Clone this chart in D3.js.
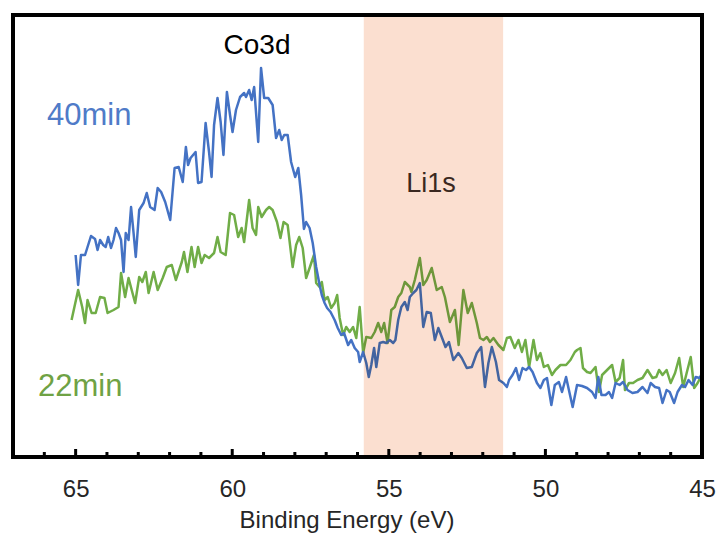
<!DOCTYPE html>
<html>
<head>
<meta charset="utf-8">
<script src="https://cdn.jsdelivr.net/npm/d3@7"></script>
<style>
  html, body { margin: 0; padding: 0; background: #fff; }
  svg { display: block; font-family: "Liberation Sans", Arial, sans-serif; }
</style>
</head>
<body>
<svg id="chart" width="720" height="533"></svg>
<script>
// ---- Data (binding energy in eV, intensity in arbitrary units) ----
const energy40 = [65.00,64.92,64.83,64.70,64.51,64.38,64.30,64.22,64.12,64.04,63.96,63.87,63.79,63.71,63.63,63.55,63.47,63.40,63.31,63.23,63.15,63.08,62.97,62.83,62.73,62.62,62.48,62.38,62.27,62.14,61.98,61.84,61.71,61.58,61.48,61.41,61.33,61.17,61.09,60.98,60.85,60.74,60.66,60.58,60.47,60.37,60.28,60.17,60.07,59.99,59.88,59.75,59.62,59.56,59.46,59.38,59.30,59.17,59.08,58.98,58.85,58.71,58.60,58.50,58.42,58.34,58.23,58.12,57.99,57.89,57.80,57.71,57.64,57.53,57.43,57.32,57.21,57.14,57.05,56.97,56.86,56.73,56.63,56.52,56.43,56.30,56.20,56.09,55.98,55.93,55.82,55.72,55.64,55.56,55.47,55.40,55.29,55.18,55.08,54.97,54.86,54.79,54.70,54.60,54.49,54.40,54.33,54.22,54.12,54.01,53.90,53.79,53.66,53.53,53.42,53.31,53.19,53.08,52.94,52.78,52.67,52.51,52.35,52.19,52.05,51.93,51.82,51.71,51.58,51.48,51.34,51.23,51.16,51.05,50.94,50.84,50.73,50.62,50.52,50.41,50.27,50.16,50.05,49.95,49.81,49.70,49.57,49.47,49.34,49.25,49.13,48.99,48.83,48.67,48.51,48.40,48.31,48.21,48.08,47.97,47.87,47.76,47.63,47.52,47.38,47.22,47.06,46.90,46.74,46.64,46.50,46.37,46.26,46.13,46.03,45.89,45.78,45.64,45.54,45.43,45.30,45.20,45.07,45.00];
const intensity40 = [202,172,202,202,221,218,207,217,212,210,220,209,217,229,224,217,185,224,217,250,224,200,247,254,264,250,247,269,265,255,237,289,290,275,310,292,299,305,274,275,334,305,280,332,359,335,302,365,342,325,347,360,364,360,367,357,370,315,389,359,359,352,319,327,317,322,322,295,280,289,262,228,235,229,214,190,172,162,154,149,145,137,129,122,124,112,117,109,105,95,105,94,80,92,109,90,114,115,114,117,114,117,137,150,155,147,160,164,167,174,130,145,144,117,129,120,110,115,97,104,99,89,90,104,110,70,94,110,95,77,74,70,77,82,89,77,89,87,90,85,74,69,77,79,52,72,75,65,80,67,50,72,71,69,65,59,80,62,62,65,59,74,72,75,67,64,65,70,64,74,70,69,54,67,65,54,65,72,70,77,72,80,79,84];

const energy22 = [65.13,64.92,64.79,64.70,64.62,64.49,64.36,64.22,64.08,63.98,63.79,63.63,63.55,63.42,63.31,63.21,63.10,62.97,62.87,62.76,62.67,62.51,62.38,62.22,62.09,61.93,61.80,61.61,61.54,61.43,61.30,61.20,61.09,60.98,60.88,60.74,60.58,60.47,60.37,60.21,60.07,59.94,59.81,59.70,59.62,59.46,59.35,59.24,59.17,59.06,58.92,58.82,58.71,58.57,58.46,58.36,58.23,58.07,57.96,57.86,57.75,57.64,57.53,57.39,57.32,57.21,57.14,57.05,56.95,56.84,56.73,56.65,56.57,56.46,56.36,56.25,56.14,56.04,55.93,55.82,55.72,55.56,55.45,55.34,55.24,55.15,55.04,54.92,54.81,54.70,54.60,54.49,54.33,54.28,54.17,54.01,53.90,53.79,53.63,53.47,53.31,53.21,53.05,52.89,52.77,52.62,52.48,52.35,52.19,52.09,51.98,51.87,51.77,51.66,51.50,51.34,51.23,51.12,50.98,50.86,50.75,50.64,50.52,50.38,50.27,50.16,50.05,49.92,49.79,49.68,49.52,49.34,49.20,49.06,48.99,48.88,48.80,48.67,48.56,48.40,48.29,48.19,48.03,47.87,47.76,47.63,47.52,47.46,47.33,47.20,47.06,46.90,46.74,46.58,46.46,46.37,46.26,46.13,46.00,45.86,45.73,45.60,45.49,45.36,45.25,45.14,45.04,45.00];
const intensity22 = [137,167,150,134,157,144,144,160,159,144,147,150,184,160,179,167,154,180,175,185,164,185,167,179,190,192,177,195,205,185,210,190,210,194,202,199,204,220,205,202,244,242,220,229,215,257,229,222,250,240,247,250,247,235,219,235,232,190,212,220,209,179,189,202,174,170,175,157,160,149,154,162,139,122,130,125,130,119,150,104,120,119,125,134,125,134,114,147,150,160,164,175,170,165,177,199,172,177,189,167,170,160,135,147,112,167,144,154,134,119,117,120,115,119,112,107,119,120,109,117,105,117,90,117,97,104,90,92,82,87,92,92,97,105,107,109,89,85,84,90,65,82,87,92,75,79,97,67,74,74,77,79,87,79,80,87,82,87,74,84,99,70,84,100,69,74,80,82];

const seriesNames = ["40min", "22min"];
const xTickValues = [65, 60, 55, 50, 45];
const li1sBand = [55.8, 51.35];
const peakLabels = ["Co3d", "Li1s"];
const xAxisTitle = "Binding Energy (eV)";

// ---- Layout ----
const svg = d3.select("#chart");
const mLeft = 13, mRight = 702, mTop = 15, mBottom = 457;

const x = d3.scaleLinear().domain([67, 45]).range([mLeft, mRight]);
const y = d3.scaleLinear().domain([0, 442]).range([mBottom, mTop]);

const blue = "#4472C4", green = "#70AD47";

svg.append("defs").append("clipPath").attr("id", "plotClip")
  .append("rect").attr("x", mLeft).attr("y", mTop).attr("width", mRight - mLeft).attr("height", mBottom - mTop);

const plot = svg.append("g").attr("clip-path", "url(#plotClip)");

// minor/major ticks (pointing inward from bottom frame)
const tickVals = d3.range(46, 67, 1);
plot.selectAll("line.tick").data(tickVals).join("line")
  .attr("class", "tick")
  .attr("x1", d => x(d)).attr("x2", d => x(d))
  .attr("y1", mBottom).attr("y2", d => mBottom - (d % 5 === 0 ? 8 : 5))
  .attr("stroke", "#000").attr("stroke-width", 3);

const line = d3.line().x(d => x(d[0])).y(d => y(d[1]));

const data22 = energy22.map((e, i) => [e, intensity22[i]]);
const data40 = energy40.map((e, i) => [e, intensity40[i]]);

plot.append("path").datum(data22).attr("d", line)
  .attr("fill", "none").attr("stroke", green).attr("stroke-width", 2.5).attr("stroke-linejoin", "round");
plot.append("path").datum(data40).attr("d", line)
  .attr("fill", "none").attr("stroke", blue).attr("stroke-width", 2.5).attr("stroke-linejoin", "round");

// Li1s highlighted band (multiplied over the curves)
plot.append("rect")
  .attr("x", x(li1sBand[0])).attr("width", x(li1sBand[1]) - x(li1sBand[0]))
  .attr("y", mTop).attr("height", mBottom - mTop)
  .attr("fill", "#FBDFD0")
  .style("mix-blend-mode", "multiply");

// frame
svg.append("rect")
  .attr("x", mLeft).attr("y", mTop).attr("width", mRight - mLeft).attr("height", mBottom - mTop)
  .attr("fill", "none").attr("stroke", "#000").attr("stroke-width", 4);

// x tick labels
const xAxis = d3.axisBottom(x).tickValues(xTickValues).tickSize(0).tickPadding(0).tickFormat(d3.format("d"));
const gx = svg.append("g").attr("transform", `translate(0,${mBottom})`).call(xAxis);
gx.select(".domain").remove();
gx.selectAll("text")
  .attr("y", 40).attr("dy", 0)
  .attr("font-size", 24).attr("fill", "#262626")
  .attr("font-family", "Liberation Sans, Arial, sans-serif");

// axis title
svg.append("text").attr("x", 347).attr("y", 528).attr("text-anchor", "middle")
  .attr("font-size", 24).attr("fill", "#262626").text(xAxisTitle);

// annotations
svg.append("text").attr("x", 257).attr("y", 54).attr("text-anchor", "middle")
  .attr("font-size", 28).attr("fill", "#000").text(peakLabels[0]);
svg.append("text").attr("x", 431).attr("y", 192).attr("text-anchor", "middle")
  .attr("font-size", 27).attr("fill", "#3a2820").text(peakLabels[1]);
svg.append("text").attr("x", 47).attr("y", 125)
  .attr("font-size", 31).attr("fill", "#4F7BC8").text(seriesNames[0]);
svg.append("text").attr("x", 38).attr("y", 396)
  .attr("font-size", 31).attr("fill", "#6FA244").text(seriesNames[1]);
</script>
</body>
</html>
